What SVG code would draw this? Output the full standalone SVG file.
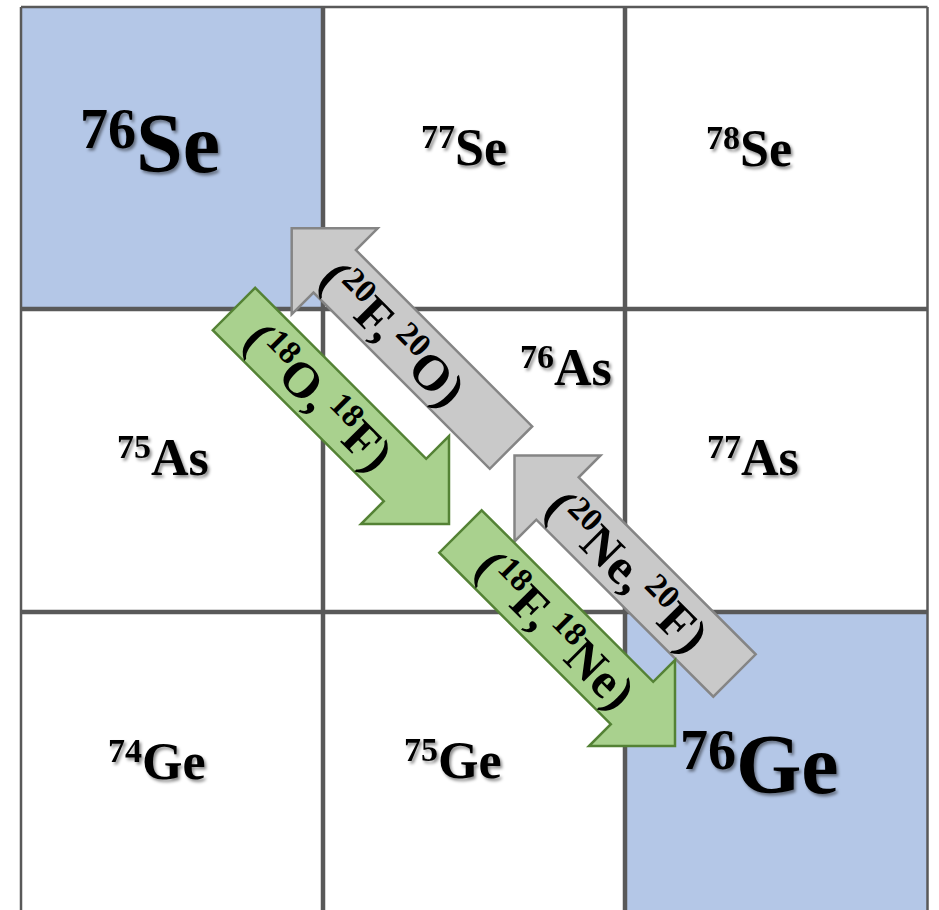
<svg xmlns="http://www.w3.org/2000/svg" width="939" height="910" viewBox="0 0 939 910">
<defs>
<filter id="sh" x="-20%" y="-20%" width="140%" height="140%">
<feDropShadow dx="2" dy="2.5" stdDeviation="1.5" flood-color="#000" flood-opacity="0.45"/>
</filter>
<style>
.lbl{font-family:"Liberation Serif","Times New Roman",serif;font-weight:bold;fill:#000;filter:url(#sh)}
.m{font-size:52px}
.big{font-size:84px}
.al{font-family:"Liberation Serif","Times New Roman",serif;font-weight:bold;font-size:50px;fill:#000}
.green{fill:#a9d18e;stroke:#548235;stroke-width:2.5;stroke-linejoin:miter}
.gray{fill:#c9c9c9;stroke:#858585;stroke-width:2.5;stroke-linejoin:miter}
.blue{fill:#b4c7e7}
.white{fill:#fff}
.gl{stroke:#595959;fill:none}
</style>
</defs>
<rect x="0" y="0" width="939" height="910" fill="#fff"/>
<g id="cell-76Se"><rect class="blue" x="21" y="7" width="302" height="302"/><text class="lbl big" x="80" y="172"><tspan font-size="56" dy="-24">76</tspan><tspan dy="24">Se</tspan></text></g>
<g id="cell-77Se"><rect class="white" x="323" y="7" width="302" height="302"/><text class="lbl m" x="421" y="165"><tspan font-size="34" dy="-17">77</tspan><tspan dy="17">Se</tspan></text></g>
<g id="cell-78Se"><rect class="white" x="625" y="7" width="302" height="302"/><text class="lbl m" x="706" y="165.5"><tspan font-size="34" dy="-17">78</tspan><tspan dy="17">Se</tspan></text></g>
<g id="cell-75As"><rect class="white" x="21" y="309" width="302" height="303"/><text class="lbl m" x="117" y="475"><tspan font-size="34" dy="-17">75</tspan><tspan dy="17">As</tspan></text></g>
<g id="cell-76As"><rect class="white" x="323" y="309" width="302" height="303"/><text class="lbl m" x="520" y="385"><tspan font-size="34" dy="-17">76</tspan><tspan dy="17">As</tspan></text></g>
<g id="cell-77As"><rect class="white" x="625" y="309" width="302" height="303"/><text class="lbl m" x="707" y="475"><tspan font-size="34" dy="-17">77</tspan><tspan dy="17">As</tspan></text></g>
<g id="cell-74Ge"><rect class="white" x="21" y="612" width="302" height="298"/><text class="lbl m" x="108" y="779"><tspan font-size="34" dy="-17">74</tspan><tspan dy="17">Ge</tspan></text></g>
<g id="cell-75Ge"><rect class="white" x="323" y="612" width="302" height="298"/><text class="lbl m" x="404" y="778"><tspan font-size="34" dy="-17">75</tspan><tspan dy="17">Ge</tspan></text></g>
<g id="cell-76Ge"><rect class="blue" x="625" y="612" width="302.5" height="298"/><text class="lbl big" x="680" y="793"><tspan font-size="56" dy="-24">76</tspan><tspan dy="24">Ge</tspan></text></g>
<g id="grid" class="gl">
<path d="M21 7V910M927.5 7V910M21 7H927.5" stroke-width="2.5"/>
<path d="M323 7V910M625 7V910M21 309H927.5M21 612H927.5" stroke-width="4.5"/>
</g>
<g id="connectors">
<g id="arrow-18O-18F">
<polygon class="green" points="255.2,287.8 426.2,458.8 449,436 449,524 361,524 383.8,501.2 212.8,330.2"/>
<text class="al" transform="translate(320.2,395.2) rotate(45)" x="0" y="19" text-anchor="middle">(<tspan font-size="33" dy="-17">18</tspan><tspan dy="17">O,</tspan><tspan font-size="33" dy="-17" dx="5">18</tspan><tspan dy="17">F)</tspan></text>
</g>
<g id="arrow-20F-20O">
<polygon class="gray" points="291.7,228.3 377.7,228.3 355.9,250.1 532.2,426.4 489.8,468.8 313.5,292.5 291.7,314.3"/>
<text class="al" transform="translate(395,331.6) rotate(45)" x="0" y="20" text-anchor="middle">(<tspan font-size="33" dy="-17">20</tspan><tspan dy="17">F,</tspan><tspan font-size="33" dy="-17" dx="5">20</tspan><tspan dy="17">O)</tspan></text>
</g>
<g id="arrow-20Ne-20F">
<polygon class="gray" points="514.5,455.5 600.5,455.5 578.7,477.3 755.7,654.3 713.3,696.7 536.3,519.7 514.5,541.5"/>
<text class="al" transform="translate(628.7,569.7) rotate(45)" x="0" y="19" text-anchor="middle">(<tspan font-size="33" dy="-17">20</tspan><tspan dy="17">Ne,</tspan><tspan font-size="33" dy="-17" dx="5">20</tspan><tspan dy="17">F)</tspan></text>
</g>
<g id="arrow-18F-18Ne">
<polygon class="green" points="481.7,510.3 653.2,681.8 675,660 675,746 589,746 610.8,724.2 439.3,552.7"/>
<text class="al" transform="translate(557,628) rotate(45)" x="0" y="19" text-anchor="middle">(<tspan font-size="33" dy="-17">18</tspan><tspan dy="17">F,</tspan><tspan font-size="33" dy="-17" dx="5">18</tspan><tspan dy="17">Ne)</tspan></text>
</g>
</g>
</svg>
